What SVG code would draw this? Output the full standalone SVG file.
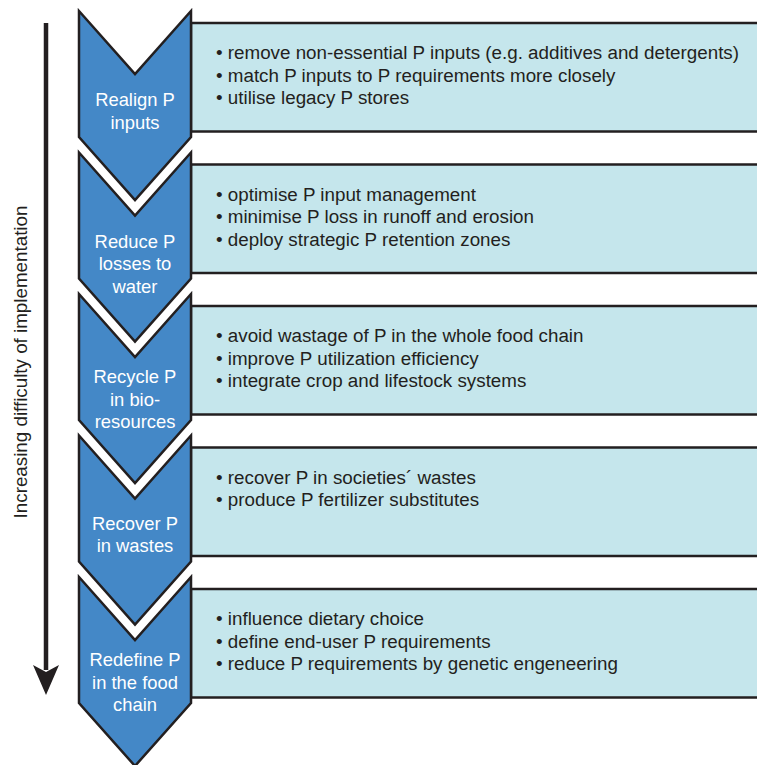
<svg xmlns="http://www.w3.org/2000/svg" width="757" height="765" viewBox="0 0 757 765">
<style>
.chev{fill:#4488c7;stroke:#231f20;stroke-width:2.5;stroke-linejoin:miter}
.box{fill:#c5e6ec;stroke:#231f20;stroke-width:2.5}
.lbl{font-family:"Liberation Sans",Arial,sans-serif;font-size:18.4px;fill:#ffffff;text-anchor:middle}
.txt{font-family:"Liberation Sans",Arial,sans-serif;font-size:18.8px;fill:#231f20}
.side{font-family:"Liberation Sans",Arial,sans-serif;font-size:18.8px;fill:#231f20;text-anchor:middle}
</style>
<g id="connectors">
<line x1="46" y1="23" x2="46" y2="670" stroke="#231f20" stroke-width="4.5"/>
<path d="M33,665 L46,695 L59,665 L46,672 Z" fill="#231f20"/>
</g>
<text class="side" transform="translate(27,362) rotate(-90)">Increasing difficulty of implementation</text>

<g id="step1">
<rect class="box" x="191" y="23" width="580" height="108.5"/>
<path class="chev" d="M79,11 L135,74 L191,11 L191,137 L135,200 L79,137 Z"/>
<text class="lbl" x="135" y="106">Realign P</text>
<text class="lbl" x="135" y="128.5">inputs</text>
<text class="txt" x="216" y="59">• remove non-essential P inputs (e.g. additives and detergents)</text>
<text class="txt" x="216" y="81.5">• match P inputs to P requirements more closely</text>
<text class="txt" x="216" y="104">• utilise legacy P stores</text>
</g>

<g id="step2">
<rect class="box" x="191" y="164.5" width="580" height="108.5"/>
<path class="chev" d="M79,152.5 L135,215.5 L191,152.5 L191,278.5 L135,341.5 L79,278.5 Z"/>
<text class="lbl" x="135" y="247.5">Reduce P</text>
<text class="lbl" x="135" y="270">losses to</text>
<text class="lbl" x="135" y="292.5">water</text>
<text class="txt" x="216" y="200.5">• optimise P input management</text>
<text class="txt" x="216" y="223">• minimise P loss in runoff and erosion</text>
<text class="txt" x="216" y="245.5">• deploy strategic P retention zones</text>
</g>

<g id="step3">
<rect class="box" x="191" y="306" width="580" height="108.5"/>
<path class="chev" d="M79,294 L135,357 L191,294 L191,420 L135,483 L79,420 Z"/>
<text class="lbl" x="135" y="383">Recycle P</text>
<text class="lbl" x="135" y="405.5">in bio-</text>
<text class="lbl" x="135" y="428">resources</text>
<text class="txt" x="216" y="342">• avoid wastage of P in the whole food chain</text>
<text class="txt" x="216" y="364.5">• improve P utilization efficiency</text>
<text class="txt" x="216" y="387">• integrate crop and lifestock systems</text>
</g>

<g id="step4">
<rect class="box" x="191" y="447.5" width="580" height="108.5"/>
<path class="chev" d="M79,435.5 L135,498.5 L191,435.5 L191,561.5 L135,624.5 L79,561.5 Z"/>
<text class="lbl" x="135" y="529.5">Recover P</text>
<text class="lbl" x="135" y="552">in wastes</text>
<text class="txt" x="216" y="483.5">• recover P in societies´ wastes</text>
<text class="txt" x="216" y="506">• produce P fertilizer substitutes</text>
</g>

<g id="step5">
<rect class="box" x="191" y="589" width="580" height="108.5"/>
<path class="chev" d="M79,577 L135,640 L191,577 L191,703 L135,766 L79,703 Z"/>
<text class="lbl" x="135" y="666">Redefine P</text>
<text class="lbl" x="135" y="688.5">in the food</text>
<text class="lbl" x="135" y="711">chain</text>
<text class="txt" x="216" y="625">• influence dietary choice</text>
<text class="txt" x="216" y="647.5">• define end-user P requirements</text>
<text class="txt" x="216" y="670">• reduce P requirements by genetic engeneering</text>
</g>
</svg>
